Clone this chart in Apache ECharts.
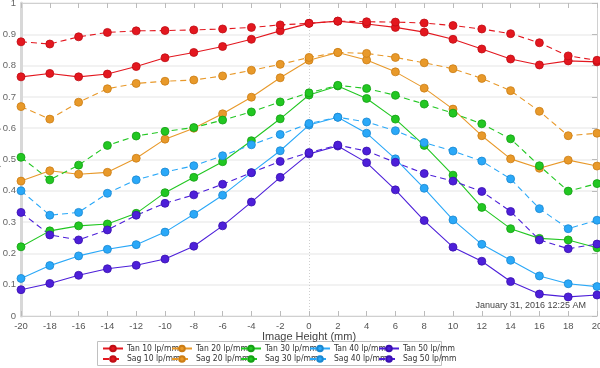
<!DOCTYPE html>
<html>
<head>
<meta charset="utf-8">
<script src="https://cdn.jsdelivr.net/npm/echarts@6/dist/echarts.min.js"></script>
<style>html,body{margin:0;padding:0;background:#fff;}#c{width:600px;height:368px;}</style>
</head>
<body>
<div id="c"></div>
<script>
var heights = [-20,-18,-16,-14,-12,-10,-8,-6,-4,-2,0,2,4,6,8,10,12,14,16,18,20];
var tan10 = [0.764,0.775,0.764,0.773,0.797,0.825,0.842,0.861,0.884,0.911,0.935,0.942,0.933,0.922,0.907,0.884,0.853,0.821,0.802,0.815,0.812];
var sag10 = [0.876,0.869,0.892,0.906,0.911,0.912,0.914,0.917,0.922,0.930,0.935,0.942,0.940,0.939,0.936,0.928,0.917,0.902,0.873,0.831,0.817];
var tan20 = [0.431,0.464,0.453,0.459,0.504,0.565,0.600,0.646,0.699,0.761,0.817,0.842,0.818,0.780,0.728,0.661,0.576,0.502,0.472,0.498,0.479];
var sag20 = [0.669,0.629,0.683,0.726,0.743,0.750,0.754,0.767,0.785,0.804,0.826,0.842,0.839,0.826,0.809,0.790,0.759,0.720,0.654,0.576,0.584];
var tan30 = [0.221,0.272,0.288,0.294,0.328,0.394,0.443,0.493,0.560,0.630,0.706,0.735,0.695,0.629,0.545,0.450,0.347,0.279,0.248,0.243,0.218];
var sag30 = [0.507,0.435,0.482,0.545,0.575,0.590,0.602,0.626,0.652,0.684,0.713,0.737,0.727,0.705,0.677,0.648,0.614,0.566,0.480,0.399,0.423];
var tan40 = [0.120,0.161,0.192,0.213,0.228,0.268,0.325,0.386,0.458,0.528,0.610,0.635,0.584,0.502,0.408,0.307,0.229,0.178,0.128,0.103,0.094];
var sag40 = [0.400,0.322,0.331,0.392,0.435,0.460,0.480,0.512,0.547,0.580,0.615,0.635,0.620,0.592,0.554,0.527,0.495,0.438,0.343,0.279,0.306];
var tan50 = [0.084,0.104,0.130,0.151,0.162,0.182,0.223,0.288,0.364,0.443,0.518,0.543,0.490,0.403,0.305,0.220,0.175,0.110,0.070,0.061,0.067];
var sag50 = [0.331,0.259,0.243,0.275,0.322,0.360,0.387,0.421,0.458,0.494,0.522,0.546,0.527,0.491,0.455,0.431,0.398,0.334,0.243,0.215,0.230];
var tanNames = ['Tan 10 lp/mm','Tan 20 lp/mm','Tan 30 lp/mm','Tan 40 lp/mm','Tan 50 lp/mm'];
var sagNames = ['Sag 10 lp/mm','Sag 20 lp/mm','Sag 30 lp/mm','Sag 40 lp/mm','Sag 50 lp/mm'];
var colors = ['#e3171f','#e8992a','#22c722','#2aa8f8','#4d1fd9'];
var borders = ['#c00d14','#cc7d14','#14a014','#1a88d0','#3a10b0'];
var xTicks = {min:-20, max:20, interval:2};
var yTicks = {min:0, max:1, interval:0.1};
var dateText = 'January 31, 2016 12:25 AM';
var xName = 'Image Height (mm)';
var yName = 'MTF (Max 1.0)';

var tanData = [tan10,tan20,tan30,tan40,tan50];
var sagData = [sag10,sag20,sag30,sag40,sag50];

function pairs(arr){ return heights.map(function(h,i){ return [h, arr[i]]; }); }

var series = [];
for (var i=0;i<5;i++){
  series.push({
    name: tanNames[i], type:'line', data: pairs(tanData[i]),
    symbol:'circle', symbolSize:8,
    lineStyle:{color:colors[i], width:1.1},
    itemStyle:{color:colors[i], borderColor:borders[i], borderWidth:0.8},
    z: 3
  });
  series.push({
    name: sagNames[i], type:'line', data: pairs(sagData[i]),
    symbol:'circle', symbolSize:8,
    lineStyle:{color:colors[i], width:1.1, type:[6,4]},
    itemStyle:{color:colors[i], borderColor:borders[i], borderWidth:0.8},
    z: 3
  });
}

var legendFont = "'Liberation Sans Narrow','DejaVu Sans Condensed','Liberation Sans',sans-serif";
var legends = [];
for (var j=0;j<5;j++){
  [tanNames, sagNames].forEach(function(names, row){
    legends.push({
      left: 102 + 69*j, top: 344 + row*10.5,
      itemWidth: 20, itemHeight: 7, itemGap: 0, padding: 0,
      textStyle:{fontSize:8.5, color:'#333', fontFamily:legendFont, padding:[0,0,0,-1]},
      selectedMode:false,
      data:[names[j]]
    });
  });
}

var chart = echarts.init(document.getElementById('c'), null, {renderer:'canvas'});
chart.setOption({
  animation:false,
  backgroundColor:'#fff',
  grid:{left:21, right:3, top:3, bottom:52, containLabel:false, outerBoundsMode:'none'},
  xAxis:[{
    type:'value', min:xTicks.min, max:xTicks.max, interval:xTicks.interval,
    name:xName, nameLocation:'middle', nameGap:15, nameMoveOverlap:false,
    nameTextStyle:{fontSize:11, color:'#444', fontFamily:'Liberation Sans'},
    axisLine:{show:true, onZero:false, lineStyle:{color:'#d0d0d0', width:1}},
    axisTick:{show:true, inside:true, length:5, lineStyle:{color:'#bbb'}},
    axisLabel:{fontSize:9.5, color:'#555', margin:5, fontFamily:'Liberation Sans'},
    splitLine:{show:false}
  },{
    type:'value', position:'top', min:xTicks.min, max:xTicks.max, interval:xTicks.interval,
    axisLine:{show:true, onZero:false, lineStyle:{color:'#d0d0d0', width:1}},
    axisTick:{show:true, inside:true, length:5, lineStyle:{color:'#bbb'}},
    axisLabel:{show:false}, splitLine:{show:false}
  },{
    type:'value', position:'bottom', min:xTicks.min, max:xTicks.max, interval:20,
    axisLine:{show:false, onZero:false}, axisTick:{show:false}, axisLabel:{show:false},
    splitLine:{show:true, lineStyle:{color:'#cfcfcf', type:[1,2], width:1}}
  }],
  yAxis:[{
    type:'value', min:yTicks.min, max:yTicks.max, interval:yTicks.interval,
    name:yName, nameLocation:'middle', nameGap:20, nameMoveOverlap:false,
    nameTextStyle:{fontSize:10, color:'#888', fontFamily:'Liberation Sans'},
    axisLine:{show:true, onZero:false, lineStyle:{color:'#d8d8d8', width:3}},
    axisTick:{show:false},
    axisLabel:{fontSize:9.5, color:'#666', margin:5, fontFamily:'Liberation Sans',
      formatter:function(v){ return v===0 ? '0' : (v===1 ? '1' : v.toFixed(1)); }},
    splitLine:{show:true, lineStyle:{color:'#eeeeee', width:1.5}}
  },{
    type:'value', position:'right', min:yTicks.min, max:yTicks.max, interval:yTicks.interval,
    axisLine:{show:true, onZero:false, lineStyle:{color:'#d0d0d0', width:1}},
    axisTick:{show:true, inside:true, length:5, lineStyle:{color:'#bbb'}},
    axisLabel:{show:false}, splitLine:{show:false}
  }],
  legend: legends,
  graphic:[
    {type:'rect', shape:{x:97.5, y:341.5, width:344, height:24}, style:{fill:'none', stroke:'#c0c0c0', lineWidth:1}, silent:true, z:-1},
    {type:'text', right:14, top:301, style:{text:dateText, fontSize:9, fill:'#444', fontFamily:'Liberation Sans'}, silent:true}
  ],
  series: series
});
</script>
</body>
</html>
